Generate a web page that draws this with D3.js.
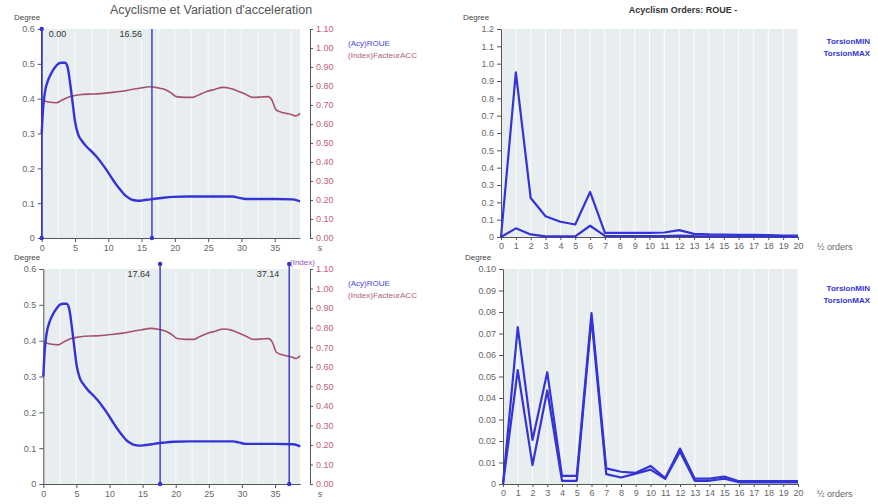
<!DOCTYPE html>
<html>
<head>
<meta charset="utf-8">
<script src="https://cdn.jsdelivr.net/npm/d3@7"></script>
<style>
  body { margin: 0; background: #fff; }
  svg text { font-family: "Liberation Sans", Arial, sans-serif; }
</style>
</head>
<body>
<div id="chart"></div>
<script>
// acyclism of the wheel over time (left axis, degrees)
var acyTime = [0, 0.2, 0.5, 1, 1.5, 2, 2.5, 3, 3.5, 3.9, 4.3, 4.7, 5, 5.5, 6, 6.75, 7.5, 8.25, 9, 9.75,
  10.5, 11.25, 12, 12.5, 13, 13.7, 14.5, 15.2, 16, 16.7, 18, 19.7, 22, 25, 28.7, 29.5, 30.7, 33, 35, 37.7, 38.8];
var acyValues = [0.30, 0.37, 0.42, 0.455, 0.475, 0.49, 0.5, 0.503, 0.503, 0.49, 0.44, 0.38, 0.335, 0.296, 0.28, 0.262,
  0.248, 0.233, 0.215, 0.195, 0.173, 0.152, 0.134, 0.123, 0.116, 0.109, 0.107, 0.108, 0.11, 0.112, 0.115, 0.118,
  0.119, 0.119, 0.119, 0.116, 0.112, 0.112, 0.112, 0.111, 0.105];

// acceleration factor over time (right axis, index)
var accTime = [0, 1, 2.25, 3, 4.2, 5, 6.2, 8, 10.2, 12, 13.7, 15, 16.2, 17.5, 18.7, 19.5, 20.2, 21.5, 22.7, 23.5,
  24.7, 26, 27.2, 28.5, 29.7, 30.7, 31.7, 33, 34, 34.6, 35.2, 36, 36.7, 37.5, 38.2, 38.8];
var accValues = [0.726, 0.716, 0.712, 0.725, 0.744, 0.75, 0.756, 0.758, 0.765, 0.772, 0.783, 0.79, 0.796, 0.79,
  0.779, 0.762, 0.744, 0.74, 0.74, 0.752, 0.77, 0.782, 0.793, 0.786, 0.77, 0.755, 0.74, 0.742, 0.744, 0.725, 0.674,
  0.662, 0.656, 0.65, 0.642, 0.656];

var leftTicks = [0, 0.1, 0.2, 0.3, 0.4, 0.5, 0.6];
var rightTicks = [0, 0.1, 0.2, 0.3, 0.4, 0.5, 0.6, 0.7, 0.8, 0.9, 1.0, 1.1];
var timeTicks = [0, 5, 10, 15, 20, 25, 30, 35];
var topCursors = [0, 16.56];
var bottomCursors = [17.64, 37.14];

// half orders spectrum
var orders = [0, 1, 2, 3, 4, 5, 6, 7, 8, 9, 10, 11, 12, 13, 14, 15, 16, 17, 18, 19, 20];
var roueMax = [0, 0.95, 0.225, 0.12, 0.088, 0.072, 0.26, 0.024, 0.024, 0.024, 0.024, 0.026, 0.04, 0.018,
  0.015, 0.014, 0.012, 0.012, 0.011, 0.008, 0.008];
var roueMin = [0, 0.05, 0.015, 0.004, 0.004, 0.004, 0.065, 0.006, 0.005, 0.005, 0.005, 0.005, 0.008, 0.005,
  0.004, 0.004, 0.003, 0.003, 0.003, 0.002, 0.002];
var torsionMax = [0, 0.073, 0.0205, 0.052, 0.0038, 0.0038, 0.0795, 0.0073, 0.0057, 0.0052, 0.0084, 0.0028,
  0.0165, 0.0025, 0.0025, 0.0035, 0.0013, 0.0013, 0.0013, 0.0013, 0.0013];
var torsionMin = [0, 0.053, 0.0088, 0.0435, 0.0015, 0.0015, 0.077, 0.0046, 0.003, 0.0048, 0.0067, 0.0024,
  0.015, 0.0015, 0.0015, 0.0025, 0.0008, 0.0008, 0.0008, 0.0008, 0.0008];
var orderTicksTop = [0, 0.1, 0.2, 0.3, 0.4, 0.5, 0.6, 0.7, 0.8, 0.9, 1.0, 1.1, 1.2];
var orderTicksBottom = [0, 0.01, 0.02, 0.03, 0.04, 0.05, 0.06, 0.07, 0.08, 0.09, 0.10];

var blue = '#3434d6';
var red = '#a8506a';
var axisGrey = '#555';
var labelGrey = '#666';

var svg = d3.select('#chart').append('svg')
  .attr('width', 878)
  .attr('height', 504);

function plotBackground(g, x, y) {
  g.append('rect')
    .attr('x', x.range()[0])
    .attr('y', y.range()[1])
    .attr('width', x.range()[1] - x.range()[0])
    .attr('height', y.range()[0] - y.range()[1])
    .attr('fill', '#e8eef0');
}

function verticalGrid(g, x, y, values, opacity) {
  g.selectAll('line.grid')
    .data(values)
    .enter()
    .append('line')
    .attr('class', 'grid')
    .attr('x1', function (d) { return x(d); })
    .attr('x2', function (d) { return x(d); })
    .attr('y1', y.range()[1])
    .attr('y2', y.range()[0])
    .attr('stroke', '#fff')
    .attr('stroke-width', 1.2)
    .attr('opacity', opacity);
}

function styleAxis(a, color) {
  a.select('.domain').attr('stroke', axisGrey);
  a.selectAll('.tick line').attr('stroke', axisGrey);
  a.selectAll('.tick text')
    .attr('fill', color)
    .attr('font-size', '9px');
}

// time chart with both curves and the two cursors
function drawTrend(opts) {
  var g = svg.append('g');
  var x = d3.scaleLinear().domain([0, 38.8]).range([opts.left, opts.right]);
  var y = d3.scaleLinear().domain([0, 0.6]).range([opts.bottom, opts.top]);
  var y2 = d3.scaleLinear().domain([0, 1.1]).range([opts.bottom, opts.top]);

  plotBackground(g, x, y);
  verticalGrid(g, x, y, [2.5, 5, 7.5, 10, 12.5, 15, 17.5, 20, 22.5, 25, 27.5, 30, 32.5, 35, 37.5], 0.6);

  var xa = g.append('g')
    .attr('transform', 'translate(0,' + opts.bottom + ')')
    .call(d3.axisBottom(x).tickValues(timeTicks).tickSize(4).tickSizeOuter(0).tickFormat(d3.format('d')));
  styleAxis(xa, labelGrey);

  var ya = g.append('g')
    .attr('transform', 'translate(' + opts.left + ',0)')
    .call(d3.axisLeft(y).tickValues(leftTicks).tickSize(4).tickSizeOuter(0)
      .tickFormat(function (d) { return d === 0 ? '0' : d3.format('.1f')(d); }));
  styleAxis(ya, labelGrey);

  var ra = g.append('g')
    .attr('transform', 'translate(' + opts.axis2 + ',0)')
    .call(d3.axisRight(y2).tickValues(rightTicks).tickSize(3).tickSizeOuter(0).tickFormat(d3.format('.2f')));
  styleAxis(ra, '#c0607a');

  // unit labels
  g.append('text')
    .attr('x', 14).attr('y', opts.top - 9)
    .attr('font-size', '8px').attr('fill', '#444')
    .text('Degree');
  g.append('text')
    .attr('x', opts.axis2 + 10).attr('y', opts.bottom + 13)
    .attr('font-size', '9px').attr('fill', labelGrey)
    .attr('text-anchor', 'middle')
    .text('s');

  var lineAcc = d3.line()
    .x(function (d, i) { return x(accTime[i]); })
    .y(function (d) { return y2(d); })
    .curve(d3.curveMonotoneX);
  g.append('path')
    .datum(accValues)
    .attr('d', lineAcc)
    .attr('fill', 'none')
    .attr('stroke', red)
    .attr('stroke-width', 1.6);

  var lineAcy = d3.line()
    .x(function (d, i) { return x(acyTime[i]); })
    .y(function (d) { return y(d); })
    .curve(d3.curveMonotoneX);
  g.append('path')
    .datum(acyValues)
    .attr('d', lineAcy)
    .attr('fill', 'none')
    .attr('stroke', blue)
    .attr('stroke-width', 2.4);

  // cursors
  var cur = g.selectAll('g.cursor')
    .data(opts.cursors)
    .enter()
    .append('g')
    .attr('class', 'cursor');
  cur.append('line')
    .attr('x1', function (d) { return x(d); })
    .attr('x2', function (d) { return x(d); })
    .attr('y1', opts.cursorTop)
    .attr('y2', opts.bottom)
    .attr('stroke', blue)
    .attr('stroke-width', 1.4);
  cur.append('circle')
    .attr('cx', function (d) { return x(d); })
    .attr('cy', opts.bottom)
    .attr('r', 2.2)
    .attr('fill', blue);
  cur.filter(function (d, i) { return opts.topMarks[i]; })
    .append('circle')
    .attr('cx', function (d) { return x(d); })
    .attr('cy', opts.cursorTop)
    .attr('r', 2.2)
    .attr('fill', blue);
  cur.append('text')
    .attr('x', function (d, i) { return x(d) + opts.labelDx[i]; })
    .attr('y', opts.top + 8)
    .attr('font-size', '9px')
    .attr('fill', '#333')
    .attr('text-anchor', function (d, i) { return opts.labelDx[i] > 0 ? 'start' : 'end'; })
    .text(function (d) { return d3.format('.2f')(d); });

  // legend
  g.append('text')
    .attr('x', 348).attr('y', opts.top + 17)
    .attr('font-size', '8px').attr('fill', '#4848d8')
    .text('(Acy)ROUE');
  g.append('text')
    .attr('x', 348).attr('y', opts.top + 29)
    .attr('font-size', '8px').attr('fill', '#b06070')
    .text('(Index)FacteurACC');

  return g;
}

// spectrum of half orders with min and max curves
function drawOrders(opts) {
  var g = svg.append('g');
  var x = d3.scaleLinear().domain([0, 20]).range([opts.left, opts.right]);
  var y = d3.scaleLinear().domain([0, opts.max]).range([opts.bottom, opts.top]);

  plotBackground(g, x, y);
  verticalGrid(g, x, y, orders.slice(1), 0.8);

  var xa = g.append('g')
    .attr('transform', 'translate(0,' + opts.bottom + ')')
    .call(d3.axisBottom(x).tickValues(orders).tickSize(3).tickSizeOuter(0).tickFormat(d3.format('d')));
  styleAxis(xa, labelGrey);

  var ya = g.append('g')
    .attr('transform', 'translate(' + opts.left + ',0)')
    .call(d3.axisLeft(y).tickValues(opts.ticks).tickSize(4).tickSizeOuter(0)
      .tickFormat(function (d) { return d === 0 ? '0' : d3.format(opts.fmt)(d); }));
  styleAxis(ya, labelGrey);

  g.append('text')
    .attr('x', opts.left - 38).attr('y', opts.top - 9)
    .attr('font-size', '8px').attr('fill', '#444')
    .text('Degree');
  g.append('text')
    .attr('x', opts.right + 19).attr('y', opts.bottom + 13)
    .attr('font-size', '9px').attr('fill', labelGrey)
    .text('\u00bd orders');

  var line = d3.line()
    .x(function (d, i) { return x(orders[i]); })
    .y(function (d) { return y(d); });

  [opts.low, opts.high].forEach(function (serie) {
    g.append('path')
      .datum(serie)
      .attr('d', line)
      .attr('fill', 'none')
      .attr('stroke', blue)
      .attr('stroke-width', 2.2)
      .attr('stroke-linejoin', 'round');
  });

  g.append('text')
    .attr('x', 870).attr('y', opts.top + opts.legendDy)
    .attr('text-anchor', 'end')
    .attr('font-size', '8px').attr('font-weight', 'bold').attr('fill', '#3434d6')
    .text('TorsionMIN');
  g.append('text')
    .attr('x', 870).attr('y', opts.top + opts.legendDy + 12)
    .attr('text-anchor', 'end')
    .attr('font-size', '8px').attr('font-weight', 'bold').attr('fill', '#3434d6')
    .text('TorsionMAX');
}

drawTrend({
  left: 41.7, right: 300, top: 29, bottom: 238, axis2: 310,
  cursorTop: 29, cursors: topCursors, topMarks: [true, false], labelDx: [7, -10]
});
drawTrend({
  left: 43.3, right: 300.2, top: 269, bottom: 484, axis2: 310,
  cursorTop: 264, cursors: bottomCursors, topMarks: [true, true], labelDx: [-10, -10]
});

// "(Index)" caption above the right axis of the lower chart
svg.append('text')
  .attr('x', 290).attr('y', 265)
  .attr('font-size', '8px').attr('fill', '#9a50b0')
  .text('(Index)');

drawOrders({
  left: 501, right: 798, top: 29, bottom: 237, max: 1.2,
  ticks: orderTicksTop, fmt: '.1f', low: roueMin, high: roueMax, legendDy: 15
});
drawOrders({
  left: 503, right: 798, top: 269, bottom: 484, max: 0.10,
  ticks: orderTicksBottom, fmt: '.2f', low: torsionMin, high: torsionMax, legendDy: 22
});

// titles
svg.append('text')
  .attr('x', 211).attr('y', 14)
  .attr('text-anchor', 'middle')
  .attr('font-size', '12.5px').attr('fill', '#555')
  .text('Acyclisme et Variation d\'acceleration');
svg.append('text')
  .attr('x', 683).attr('y', 13)
  .attr('text-anchor', 'middle')
  .attr('font-size', '9px').attr('font-weight', 'bold').attr('fill', '#333')
  .text('Acyclism Orders:  ROUE -');
</script>
</body>
</html>
